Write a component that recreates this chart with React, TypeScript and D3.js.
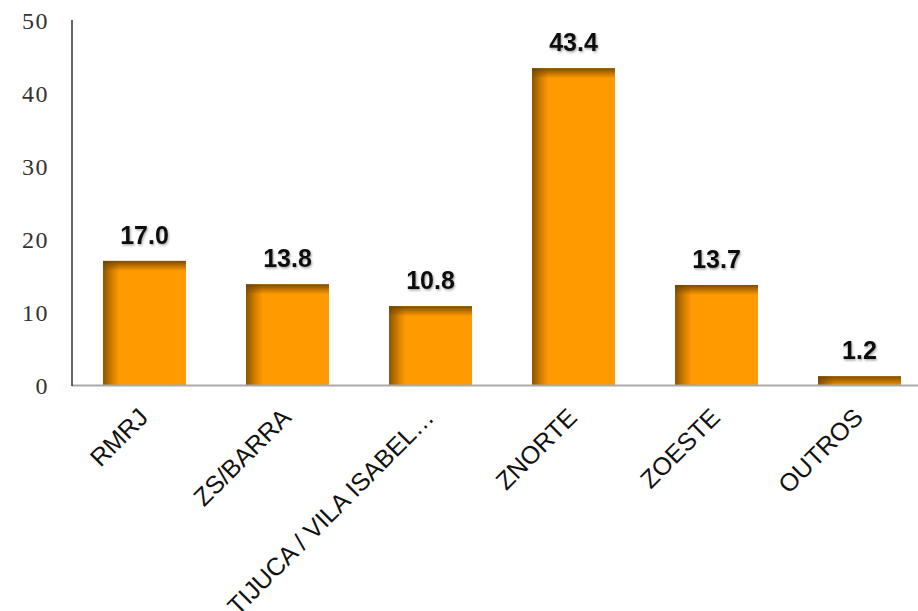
import React from 'react';
import * as d3 from 'd3';

const categories = ['RMRJ', 'ZS/BARRA', 'TIJUCA / VILA ISABEL…', 'ZNORTE', 'ZOESTE', 'OUTROS'];
const values = [17.0, 13.8, 10.8, 43.4, 13.7, 1.2];
const yTicks = [0, 10, 20, 30, 40, 50];

const W = 918;
const H = 611;

const App: React.FC = () => {
  const x = d3.scaleBand<string>().domain(categories).range([73, 931]).paddingInner(0.42).paddingOuter(0.21);
  const y = d3.scaleLinear().domain([0, 50]).range([385, 20]);

  return (
    <svg width={W} height={H} style={{ position: 'absolute', left: 0, top: 0, background: '#fff' }}>
      <defs>
        <linearGradient id="barH" x1="0" x2="1" y1="0" y2="0">
          <stop offset="0" stopColor="#8a5300" />
          <stop offset="0.12" stopColor="#d98200" />
          <stop offset="0.2" stopColor="#ff9a00" />
          <stop offset="1" stopColor="#ff9a00" />
        </linearGradient>
        <filter id="tshadow" x="-20%" y="-20%" width="140%" height="160%">
          <feDropShadow dx="1" dy="1.5" stdDeviation="0.8" floodColor="#000" floodOpacity="0.35" />
        </filter>
      </defs>

      {yTicks.map(t => (
        <text key={t} x={49} y={y(t) + 9} textAnchor="end"
          style={{ fontFamily: 'Liberation Serif, serif', fontSize: 24, letterSpacing: 1.5, fill: '#333' }}>
          {t}
        </text>
      ))}

      {categories.map((c, i) => {
        const bx = x(c)!;
        const bw = x.bandwidth();
        const top = y(values[i]);
        const h = y(0) - top;
        return (
          <g key={c}>
            <defs>
              <linearGradient id={`barV${i}`} x1="0" x2="0" y1={top} y2={top + 10} gradientUnits="userSpaceOnUse">
                <stop offset="0" stopColor="#6e4200" stopOpacity="0.9" />
                <stop offset="1" stopColor="#6e4200" stopOpacity="0" />
              </linearGradient>
            </defs>
            <rect x={bx} y={top} width={bw} height={h} fill="url(#barH)" />
            <rect x={bx} y={top} width={bw} height={Math.min(10, h)} fill={`url(#barV${i})`} />
            <text x={bx + bw / 2} y={top - 17} textAnchor="middle" filter="url(#tshadow)"
              style={{ fontFamily: 'Liberation Sans, Arial, sans-serif', fontSize: 25, fontWeight: 700, fill: '#111' }}>
              {values[i].toFixed(1)}
            </text>
            <text transform={`translate(${bx + bw / 2 + 5},${419}) rotate(-45)`} textAnchor="end"
              style={{ fontFamily: 'Liberation Sans, Arial, sans-serif', fontSize: 25, fill: '#111' }}>
              {c}
            </text>
          </g>
        );
      })}

      <line x1={72} x2={W} y1={y(0) + 0.5} y2={y(0) + 0.5} stroke="#aaa" strokeWidth={2} />
      <line x1={72} x2={72} y1={20} y2={y(0) + 1} stroke="#333" strokeWidth={1.5} />
    </svg>
  );
};

export default App;
